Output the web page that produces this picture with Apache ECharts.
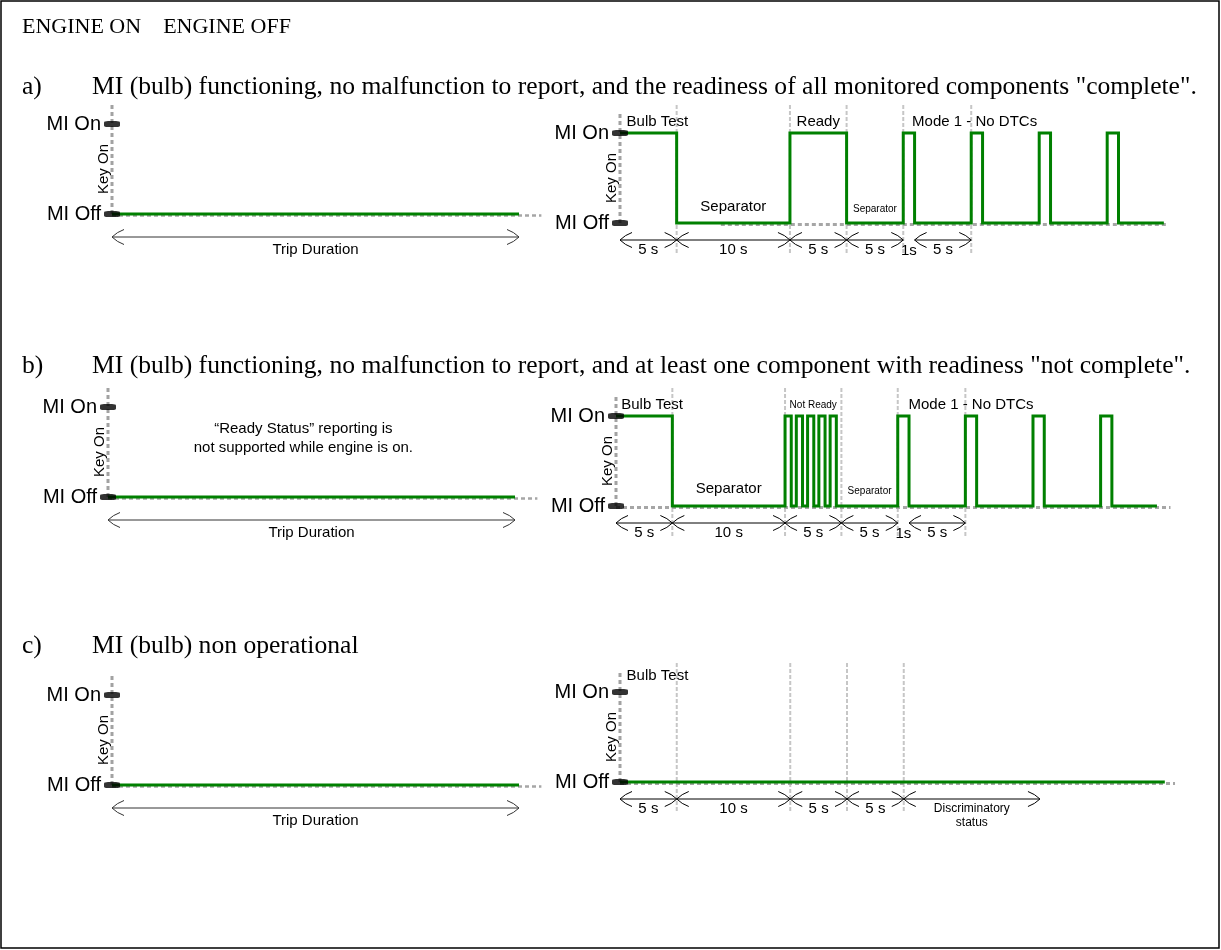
<!DOCTYPE html>
<html><head><meta charset="utf-8">
<script src="https://cdn.jsdelivr.net/npm/echarts@6/dist/echarts.min.js"></script>
<style>html,body{margin:0;padding:0;background:#fff}#c{width:1221px;height:950px}</style>
</head><body><div id="c"></div>
<script>
// ================= DATA =================
const levelLabels = ['MI Off', 'MI On'];          // level 0, level 1
const keyLabel = 'Key On';
const headerText = 'ENGINE ON    ENGINE OFF';
const sectionLetters = ['a)', 'b)', 'c)'];
const sectionTitles = [
  'MI (bulb) functioning, no malfunction to report, and the readiness of all monitored components "complete".',
  'MI (bulb) functioning, no malfunction to report, and at least one component with readiness "not complete".',
  'MI (bulb) non operational'
];

// Engine ON (left) – x is % of trip
const tripSignal = [[0, 0], [100, 0]];
const tripBaseline = [[0, 105.5]];
const tripSpan = [[0, 100, 'Trip Duration']];
const engineOnNote = ['\u201CReady Status\u201D reporting is', 'not supported while engine is on.'];

// Engine OFF (right) – x in seconds, [time, level] change points
const signalA = [[0,1],[5,0],[15,1],[20,0],[25,1],[26,0],[31,1],[32,0],[37,1],[38,0],[43,1],[44,0],[48,0]];
const signalB = [[0,1],[5,0],[15,1],[15.55,0],[16,1],[16.55,0],[17,1],[17.55,0],[18,1],[18.55,0],[19,1],[19.55,0],
                 [25,1],[26,0],[31,1],[32,0],[37,1],[38,0],[43,1],[44,0],[48,0]];
const signalC = [[0,0],[48,0]];
const boundariesAB = [5, 15, 20, 25, 31];
const boundariesC = [5, 15, 20, 25];
const spansAB = [[0,5,'5 s'],[5,15,'10 s'],[15,20,'5 s'],[20,25,'5 s'],[26,31,'5 s']];
const gapLabelsAB = [[25.5,'1s']];
const spansC = [[0,5,'5 s'],[5,15,'10 s'],[15,20,'5 s'],[20,25,'5 s'],[25,37,'Discriminatory\nstatus']];
const baselineA = [[8.9, 48.3]];
const baselineB = [[0, 49.2]];
const baselineC = [[0, 48.9]];
const phaseLabelsA = [[3.3,1,'Bulb Test'],[10,0,'Separator'],[17.5,1,'Ready'],[31.3,1,'Mode 1 - No DTCs']];
const minorLabelsA = [[22.5,0,'Separator']];
const phaseLabelsB = [[3.2,1,'Bulb Test'],[10,0,'Separator'],[31.5,1,'Mode 1 - No DTCs']];
const minorLabelsB = [[17.5,1,'Not Ready'],[22.5,0,'Separator']];
const phaseLabelsC = [[3.3,1,'Bulb Test']];

// ================= STYLE / LAYOUT =================
const FONT = '"Liberation Sans", Arial, Helvetica, sans-serif';
const SERIF = '"Liberation Serif", "Times New Roman", serif';
const GREEN = '#008000';
const PX_PER_LEVEL = 90;
const layouts = [
  {left:112, onY:124, pxPerUnit:4.07,  xMax:110},
  {left:620, onY:133, pxPerUnit:11.33, xMax:50},
  {left:108, onY:407, pxPerUnit:4.07,  xMax:110},
  {left:616, onY:416, pxPerUnit:11.27, xMax:50},
  {left:112, onY:695, pxPerUnit:4.07,  xMax:110},
  {left:620, onY:692, pxPerUnit:11.35, xMax:50}
];

function axisOpts(gi){ return {xAxisIndex:gi, yAxisIndex:gi, silent:true, animation:false}; }

function keyOnSeries(gi){
  return Object.assign({type:'custom', clip:false, z:2, data:[[0,0]],
    renderItem(params, api){
      const b = api.coord([0,0]), t = api.coord([0,1]), m = api.coord([0,0.5]);
      return {type:'group', children:[
        {type:'line', shape:{x1:b[0], y1:b[1], x2:t[0], y2:t[1]-22},
          style:{stroke:'#a2a2a2', lineWidth:3, lineDash:[4,3]}},
        {type:'text', x:m[0]-8, y:m[1], rotation:Math.PI/2,
          style:{text:keyLabel, fontSize:15, fontFamily:FONT, fill:'#000', align:'center', verticalAlign:'middle'}}
      ]};
    }}, axisOpts(gi));
}
function vlineSeries(gi, ts, topPx, botPx){
  return Object.assign({type:'custom', clip:false, z:1, data: ts.map(t=>[t,0]),
    renderItem(params, api){
      const t = api.value(0), a = api.coord([t,1]), b = api.coord([t,0]);
      return {type:'line', shape:{x1:a[0], y1:a[1]-topPx, x2:b[0], y2:b[1]+botPx},
        style:{stroke:'#c6c6c6', lineWidth:2, lineDash:[4,2]}};
    }}, axisOpts(gi));
}
function baselineSeries(gi, segs, width){
  return Object.assign({type:'custom', clip:false, z:3, data: segs,
    renderItem(params, api){
      const a = api.coord([api.value(0),0]), b = api.coord([api.value(1),0]);
      return {type:'line', shape:{x1:a[0], y1:a[1]+1.5, x2:b[0], y2:b[1]+1.5},
        style:{stroke:'#a6a6a6', lineWidth:width, lineDash:[4,3]}};
    }}, axisOpts(gi));
}
function signalSeries(gi, sig){
  return Object.assign({type:'line', data:sig, step:'end', symbol:'none', showSymbol:false, clip:false, z:4,
    lineStyle:{color:GREEN, width:3, join:'miter'}}, axisOpts(gi));
}
function tickSeries(gi){
  return Object.assign({type:'scatter', data: levelLabels.map((_,i)=>[0,i]), symbol:'roundRect',
    symbolSize:[16,6], itemStyle:{color:'#000'}, z:6, clip:false}, axisOpts(gi));
}
function spanSeries(gi, spans, opt){
  return Object.assign({type:'custom', clip:false, z:5, data: spans.map(s=>[s[0], s[1]]),
    renderItem(params, api){
      const s = spans[params.dataIndex];
      const a = api.coord([s[0],0]), b = api.coord([s[1],0]);
      const y = a[1] + opt.dy, h = 12, v = 7.5, c = opt.color;
      const st = {stroke:c, fill:null, lineWidth:1};
      return {type:'group', children:[
        {type:'line', shape:{x1:a[0], y1:y, x2:b[0], y2:y}, style:{stroke:c, lineWidth:1}},
        {type:'bezierCurve', shape:{x1:a[0], y1:y, x2:a[0]+h, y2:y-v, cpx1:a[0]+5, cpy1:y-5}, style:st},
        {type:'bezierCurve', shape:{x1:a[0], y1:y, x2:a[0]+h, y2:y+v, cpx1:a[0]+5, cpy1:y+5}, style:st},
        {type:'bezierCurve', shape:{x1:b[0], y1:y, x2:b[0]-h, y2:y-v, cpx1:b[0]-5, cpy1:y-5}, style:st},
        {type:'bezierCurve', shape:{x1:b[0], y1:y, x2:b[0]-h, y2:y+v, cpx1:b[0]-5, cpy1:y+5}, style:st},
        {type:'text', x:(a[0]+b[0])/2, y:y+opt.labelDy,
          style:{text:s[2], fontSize:opt.fontSize(s[2]), lineHeight:opt.lineHeight, fontFamily:FONT, fill:'#000',
                 align:'center', verticalAlign:'top'}}
      ]};
    }}, axisOpts(gi));
}
function labelSeries(gi, items, st){
  return Object.assign({type:'custom', clip:false, z:5, data: items.map(d=>[d[0], d[1]]),
    renderItem(params, api){
      const d = items[params.dataIndex];
      const p = api.coord([d[0], d[1]]);
      const dy = d[1] === 1 ? st.dyOn : (d[1] === 0 ? st.dyOff : 0);
      return {type:'text', x:p[0], y:p[1]+dy,
        style:{text:d[2], fontSize:st.size, lineHeight:st.lineHeight, fontFamily:FONT, fill:'#000',
               align:'center', verticalAlign:'middle'}};
    }}, axisOpts(gi));
}
function gapSeries(gi, items, dy){
  return labelSeries(gi, items.map(d=>[d[0], 0, d[1]]), {size:15, dyOff:dy, dyOn:0});
}

const rightSpanOpt = {dy:17, labelDy:3, color:'#000', lineHeight:14,
  fontSize: t => t.indexOf('\n') >= 0 ? 12 : 15};
const leftSpanOpt = {dy:23, labelDy:4, color:'#333', lineHeight:17, fontSize: () => 15};

const series = [];
// Engine ON panels (left)
[0,2,4].forEach(gi => {
  series.push(baselineSeries(gi, tripBaseline, 2.5));
  series.push(keyOnSeries(gi));
  series.push(signalSeries(gi, tripSignal));
  series.push(tickSeries(gi));
  series.push(spanSeries(gi, tripSpan, leftSpanOpt));
});
series.push(labelSeries(2, [[48, 0.65, engineOnNote.join('\n')]], {size:15, lineHeight:19}));

// Engine OFF panels (right)
const rights = [
  {gi:1, sig:signalA, bounds:boundariesAB, base:baselineA, spans:spansAB, gaps:gapLabelsAB,
   labels:phaseLabelsA, minor:minorLabelsA, dyOn:-11, dyOff:-16, minorOn:-11, minorOff:-14, vTop:28, vBot:31},
  {gi:3, sig:signalB, bounds:boundariesAB, base:baselineB, spans:spansAB, gaps:gapLabelsAB,
   labels:phaseLabelsB, minor:minorLabelsB, dyOn:-11, dyOff:-17, minorOn:-11, minorOff:-15, vTop:28, vBot:30},
  {gi:5, sig:signalC, bounds:boundariesC, base:baselineC, spans:spansC, gaps:[],
   labels:phaseLabelsC, minor:[], dyOn:-16, dyOff:-16, minorOn:-11, minorOff:-14, vTop:29, vBot:30}
];
rights.forEach(r => {
  series.push(vlineSeries(r.gi, r.bounds, r.vTop, r.vBot));
  series.push(baselineSeries(r.gi, r.base, 3));
  series.push(keyOnSeries(r.gi));
  series.push(signalSeries(r.gi, r.sig));
  series.push(tickSeries(r.gi));
  series.push(spanSeries(r.gi, r.spans, rightSpanOpt));
  if (r.gaps.length) series.push(gapSeries(r.gi, r.gaps, 17 + 11));
  series.push(labelSeries(r.gi, r.labels, {size:15, dyOn:r.dyOn, dyOff:r.dyOff}));
  if (r.minor.length) series.push(labelSeries(r.gi, r.minor, {size:10, dyOn:r.minorOn, dyOff:r.minorOff}));
});

const titleStyle = size => ({fontFamily:SERIF, fontSize:size, fontWeight:'normal', color:'#000'});
const sectionCenters = [87, 366, 646];
const SEC = 25.6;
const titles = [{text:headerText, left:22, top:16, padding:0, textStyle:titleStyle(22)}];
sectionLetters.forEach((l, i) => {
  titles.push({text:l, left:22, top:sectionCenters[i]-SEC/2, padding:0, textStyle:titleStyle(SEC)});
  titles.push({text:sectionTitles[i], left:92, top:sectionCenters[i]-SEC/2, padding:0, textStyle:titleStyle(SEC)});
});

const option = {
  animation:false,
  backgroundColor:'#fff',
  title: titles,
  graphic:[{type:'rect', shape:{x:1, y:1, width:1218, height:947}, style:{fill:null, stroke:'#000', lineWidth:1.5}, silent:true}],
  grid: layouts.map(l => ({left:l.left, top:l.onY - 0.5*PX_PER_LEVEL, width:l.pxPerUnit*l.xMax,
                            height:2*PX_PER_LEVEL, containLabel:false, outerBoundsMode:'none'})),
  xAxis: layouts.map((l,i) => ({type:'value', gridIndex:i, min:0, max:l.xMax, show:false})),
  yAxis: layouts.map((l,i) => ({type:'value', gridIndex:i, min:-0.5, max:1.5, interval:0.5,
    axisLine:{show:false}, axisTick:{show:false}, splitLine:{show:false},
    axisLabel:{margin:11, fontSize:20, color:'#000', fontFamily:FONT,
      formatter: v => (Math.abs(v) < 1e-9 ? levelLabels[0] : (Math.abs(v-1) < 1e-9 ? levelLabels[1] : ''))}})),
  series: series
};
const chart = echarts.init(document.getElementById('c'), null, {renderer:'canvas'});
chart.setOption(option);
</script>
</body></html>
